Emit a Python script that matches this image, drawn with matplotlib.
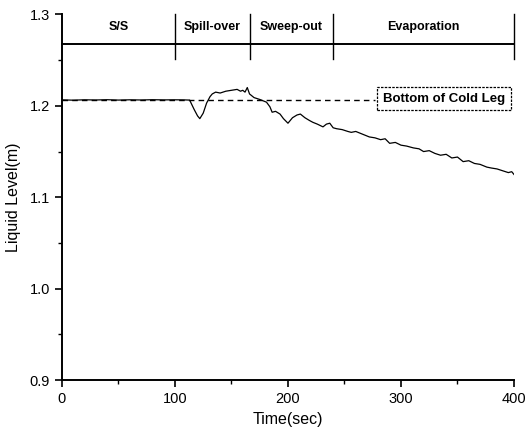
import matplotlib.pyplot as plt

plt.rcParams['font.family'] = ['Liberation Sans', 'DejaVu Sans']

# liquid level trace
time = [0, 10, 20, 30, 40, 50, 60, 70, 80, 90, 100, 108, 113, 117, 120, 122, 125,
        128, 131, 133, 136, 140, 145, 150, 155, 158, 160, 162, 164, 166, 170, 175,
        179, 181, 184, 186, 189, 193, 196, 200, 204, 208, 211, 215, 219, 222, 226,
        231, 234, 237, 240, 243, 248, 253, 256, 260, 264, 268, 272, 277, 282, 286,
        290, 295, 300, 305, 311, 316, 320, 325, 330, 335, 340, 345, 350, 355, 360,
        365, 370, 376, 380, 385, 390, 395, 398, 400]
level = [1.2065, 1.2062, 1.2066, 1.2064, 1.2067, 1.2063, 1.2066, 1.2064, 1.2067,
         1.2065, 1.2066, 1.2065, 1.2063, 1.196, 1.189, 1.186, 1.192, 1.203, 1.210,
         1.213, 1.215, 1.214, 1.216, 1.217, 1.218, 1.216, 1.217, 1.215, 1.220,
         1.213, 1.209, 1.207, 1.205, 1.204, 1.199, 1.193, 1.194, 1.191, 1.186,
         1.181, 1.187, 1.190, 1.191, 1.187, 1.184, 1.182, 1.180, 1.177, 1.180,
         1.181, 1.176, 1.175, 1.174, 1.172, 1.171, 1.172, 1.170, 1.168, 1.166,
         1.165, 1.163, 1.164, 1.159, 1.160, 1.157, 1.156, 1.154, 1.153, 1.150,
         1.151, 1.148, 1.146, 1.147, 1.143, 1.144, 1.139, 1.140, 1.137, 1.136,
         1.133, 1.132, 1.131, 1.129, 1.127, 1.128, 1.125]

# flow regime boundaries and labels
phase_edges = [0, 100, 166, 240, 400]
phase_names = ['S/S', 'Spill-over', 'Sweep-out', 'Evaporation']
phase_y = 1.268

cold_leg = 1.206
cold_leg_end = 277
cold_leg_label = 'Bottom of Cold Leg'

fig = plt.figure(figsize=(5.25, 4.36), dpi=100)
ax = fig.add_axes([0.118, 0.128, 0.861, 0.839])

ax.plot(time, level, color='black', lw=0.9)
ax.plot([0, cold_leg_end], [cold_leg, cold_leg], color='black', lw=1.0,
        linestyle=(0, (4, 3)))
ax.text(338, cold_leg + 0.002, cold_leg_label, ha='center', va='center',
        fontsize=9.5, fontweight='bold',
        bbox=dict(boxstyle='square,pad=0.45', fc='white', ec='black', lw=0.9,
                  linestyle=(0, (2, 1))))

# phase bar at the top
ax.plot([0, 400], [phase_y, phase_y], color='black', lw=1.4, clip_on=False)
for x in phase_edges[1:]:
    ax.plot([x, x], [1.251, 1.3], color='black', lw=1.0, clip_on=False)
for i, name in enumerate(phase_names):
    xc = (phase_edges[i] + phase_edges[i + 1]) / 2
    ax.text(xc, 1.286, name, ha='center', va='center', fontsize=9,
            fontweight='bold')

ax.set_xlim(0, 400)
ax.set_ylim(0.9, 1.3)
ax.set_xticks([0, 100, 200, 300, 400])
ax.set_xticks([50, 150, 250, 350], minor=True)
ax.set_yticks([0.9, 1.0, 1.1, 1.2, 1.3])
ax.set_yticks([0.95, 1.05, 1.15, 1.25], minor=True)
ax.set_yticklabels(['0.9', '1.0', '1.1', '1.2', '1.3'])
ax.spines['top'].set_visible(False)
ax.spines['right'].set_visible(False)
ax.spines['left'].set_linewidth(1.4)
ax.spines['bottom'].set_linewidth(1.4)
ax.tick_params(which='major', length=5, width=1.2, labelsize=10.5)
ax.tick_params(which='minor', length=3, width=1.0)
ax.set_xlabel('Time(sec)', fontsize=11.5, labelpad=4)
ax.set_ylabel('Liquid Level(m)', fontsize=11.5, labelpad=6)

fig.savefig('out.png', dpi=100)
